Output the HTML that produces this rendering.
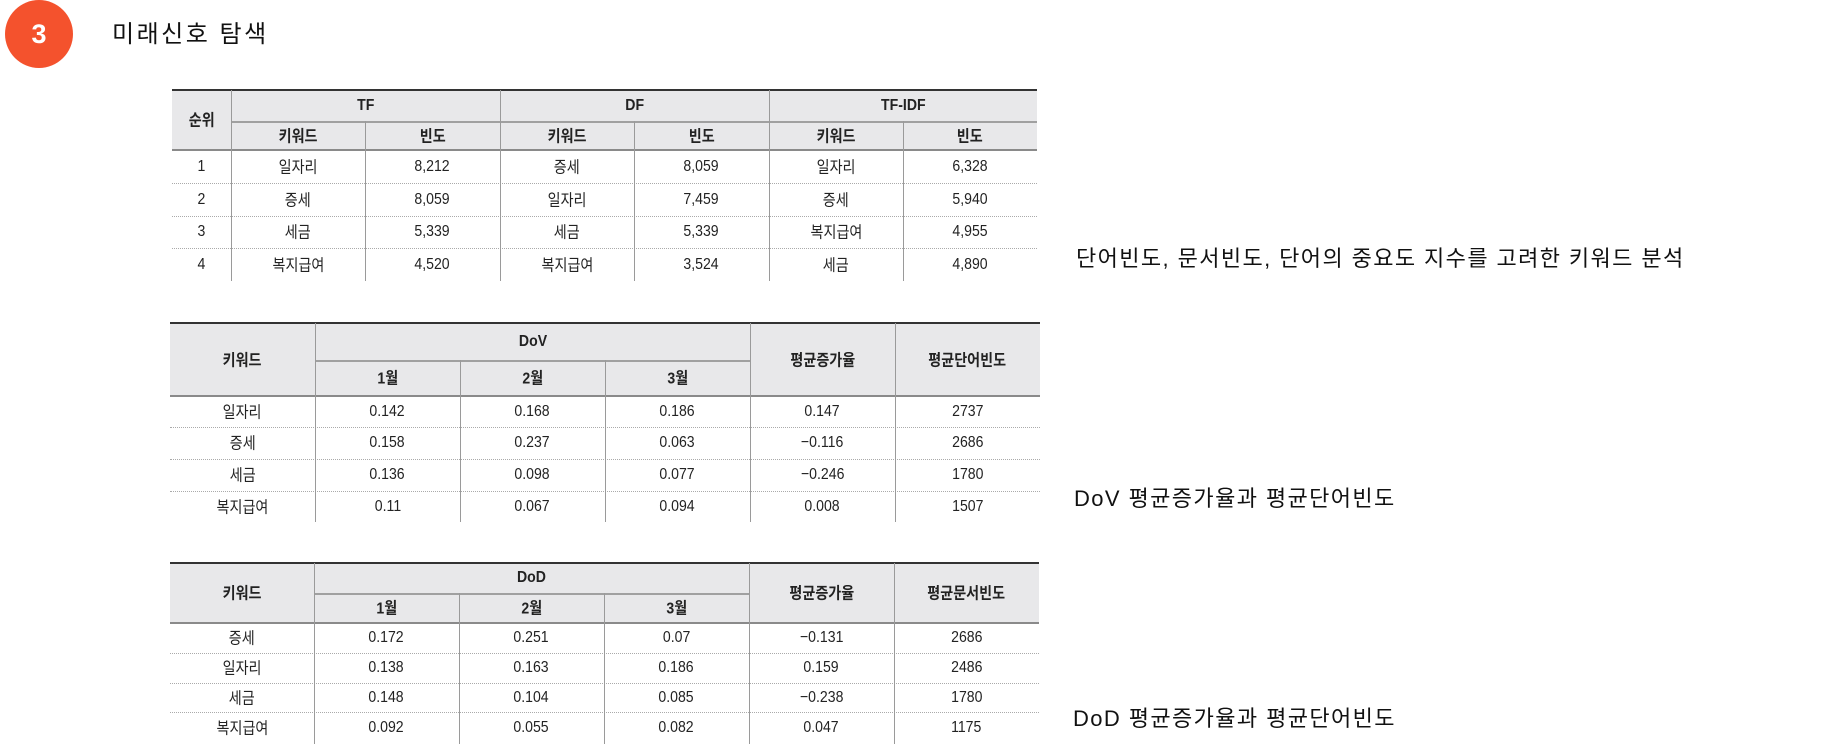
<!DOCTYPE html>
<html><head><meta charset="utf-8">
<style>
html,body{margin:0;padding:0;background:#fff;width:1847px;height:744px;overflow:hidden;position:relative;font-family:"Liberation Sans","Noto Sans CJK KR",sans-serif;color:#111}
.abs{position:absolute}
.cell{position:absolute;display:flex;align-items:center;justify-content:center;font-size:16px;color:#222;white-space:nowrap}
.cell span{display:block;line-height:18px;transform:scaleX(0.88)}
.cell span.ko{transform:translateY(1.5px) scaleX(0.88)}
.hd{font-weight:bold;color:#222}
.bg{position:absolute;background:#e8e8ea}
.hl{position:absolute;height:0}
.vl{position:absolute;width:1px;background:#9a9a9a}
.side{position:absolute;font-size:22px;line-height:28px;color:#111;white-space:nowrap;letter-spacing:1.4px}
</style></head>
<body>
<div class="abs" style="left:5px;top:0px;width:68px;height:68px;border-radius:50%;background:#f4522d;color:#fff;font-weight:bold;font-size:27px;display:flex;align-items:center;justify-content:center">3</div>
<div class="abs" style="left:112px;top:19px;font-size:24px;line-height:32px;color:#111;letter-spacing:2.5px">미래신호 탐색</div>

<div class="side" style="left:1076px;top:245px">단어빈도, 문서빈도, 단어의 중요도 지수를 고려한 키워드 분석</div>
<div class="side" style="left:1074px;top:485px">DoV 평균증가율과 평균단어빈도</div>
<div class="side" style="left:1073px;top:705px">DoD 평균증가율과 평균단어빈도</div>

<div id="root"></div>
<script>
const root=document.getElementById('root');
function mk(cls,name,x,y,w,h,txt){
  const d=document.createElement('div');
  d.className=cls;
  
  
  d.style.left=x+'px';d.style.top=y+'px';d.style.width=w+'px';d.style.height=h+'px';
  if(txt!==undefined){const s=document.createElement('span');s.textContent=txt;if(/[가-힣]/.test(txt))s.className='ko';d.appendChild(s);}
  root.appendChild(d);return d;
}
function line(name,x,y,w,style){
  const d=document.createElement('div');
  d.className='hl';
  
  
  d.style.left=x+'px';d.style.top=y+'px';d.style.width=w+'px';d.style.borderTop=style;
  root.appendChild(d);
}
function vline(name,x,y,h){
  const d=document.createElement('div');
  d.className='vl';
  
  
  d.style.left=x+'px';d.style.top=y+'px';d.style.height=h+'px';
  root.appendChild(d);
}

// Table 1
const t1Ranks=['1','2','3','4'];
const t1TFk=['일자리','증세','세금','복지급여'];
const t1TFv=['8,212','8,059','5,339','4,520'];
const t1DFk=['증세','일자리','세금','복지급여'];
const t1DFv=['8,059','7,459','5,339','3,524'];
const t1IDk=['일자리','증세','복지급여','세금'];
const t1IDv=['6,328','5,940','4,955','4,890'];
(function(){
  const L=172,R=1037,top=90,m=121,hb=150;
  const cols=[172,231,365,500,634,769,903,1037];
  const rows=[150,183,216,248,281];
  mk('bg','header-bg',L,top,R-L,hb-top);
  line('top-border',L,top-1,R-L,'2px solid #333');
  line('header-divider',cols[1],m,R-cols[1],'2px solid #a0a0a0');
  line('header-bottom',L,hb-1,R-L,'2px solid #8a8a8a');
  mk('cell hd','rank-header',L,top,cols[1]-L,hb-top,'순위');
  const groups=['TF','DF','TF-IDF'];
  groups.forEach((g,i)=>{
    mk('cell hd','group-header-'+g.toLowerCase(),cols[1+2*i],top,cols[3+2*i]-cols[1+2*i],m-top,g);
    mk('cell hd','keyword-header',cols[1+2*i],m,cols[2+2*i]-cols[1+2*i],hb-m,'키워드');
    mk('cell hd','frequency-header',cols[2+2*i],m,cols[3+2*i]-cols[2+2*i],hb-m,'빈도');
  });
  const data=[t1Ranks,t1TFk,t1TFv,t1DFk,t1DFv,t1IDk,t1IDv];
  for(let r=0;r<4;r++){
    data.forEach((arr,c)=>{
      mk('cell','table1-cell',cols[c],rows[r],cols[c+1]-cols[c],rows[r+1]-rows[r],arr[r]);
    });
    if(r<3) line('row-divider',L,rows[r+1],R-L,'1px dotted #aaa');
  }
  vline('col-line',cols[1],top,rows[4]-top);
  [3,5].forEach(i=>vline('col-line',cols[i],top,rows[4]-top));
  [2,4,6].forEach(i=>vline('col-line',cols[i],m,rows[4]-m));
})();

// Tables 2 & 3
const dovKeys=['일자리','증세','세금','복지급여'];
const dovM1=['0.142','0.158','0.136','0.11'];
const dovM2=['0.168','0.237','0.098','0.067'];
const dovM3=['0.186','0.063','0.077','0.094'];
const dovGrowth=['0.147','−0.116','−0.246','0.008'];
const dovFreq=['2737','2686','1780','1507'];
const dodKeys=['증세','일자리','세금','복지급여'];
const dodM1=['0.172','0.138','0.148','0.092'];
const dodM2=['0.251','0.163','0.104','0.055'];
const dodM3=['0.07','0.186','0.085','0.082'];
const dodGrowth=['−0.131','0.159','−0.238','0.047'];
const dodFreq=['2686','2486','1780','1175'];

function table2(prefix,cols,top,m,hb,rows,title,lastHead,data){
  const L=cols[0],R=cols[6];
  mk('bg',prefix+'-header-bg',L,top,R-L,hb-top);
  line(prefix+'-top-border',L,top-1,R-L,'2px solid #333');
  line(prefix+'-header-divider',cols[1],m,cols[4]-cols[1],'2px solid #a0a0a0');
  line(prefix+'-header-bottom',L,hb-1,R-L,'2px solid #8a8a8a');
  mk('cell hd',prefix+'-keyword-header',L,top,cols[1]-L,hb-top,'키워드');
  mk('cell hd',prefix+'-group-header',cols[1],top,cols[4]-cols[1],m-top,title);
  ['1월','2월','3월'].forEach((t,i)=>mk('cell hd',prefix+'-month-header',cols[1+i],m,cols[2+i]-cols[1+i],hb-m,t));
  mk('cell hd',prefix+'-growth-header',cols[4],top,cols[5]-cols[4],hb-top,'평균증가율');
  mk('cell hd',prefix+'-freq-header',cols[5],top,cols[6]-cols[5],hb-top,lastHead);
  for(let r=0;r<4;r++){
    data.forEach((arr,c)=>mk('cell',prefix+'-cell',cols[c],rows[r],cols[c+1]-cols[c],rows[r+1]-rows[r],arr[r]));
    if(r<3) line(prefix+'-row-divider',L,rows[r+1],R-L,'1px dotted #aaa');
  }
  const bottom=rows[4];
  [1,4,5].forEach(i=>vline(prefix+'-col-line',cols[i],top,bottom-top));
  [2,3].forEach(i=>vline(prefix+'-col-line',cols[i],m,bottom-m));
}
table2('dov-table',[170,315,460,605,750,895,1040],323,360,396,[396,427,459,491,522],'DoV','평균단어빈도',[dovKeys,dovM1,dovM2,dovM3,dovGrowth,dovFreq]);
table2('dod-table',[170,314,459,604,749,894,1039],563,593,623,[623,653,683,712,744],'DoD','평균문서빈도',[dodKeys,dodM1,dodM2,dodM3,dodGrowth,dodFreq]);
</script>
</body></html>
